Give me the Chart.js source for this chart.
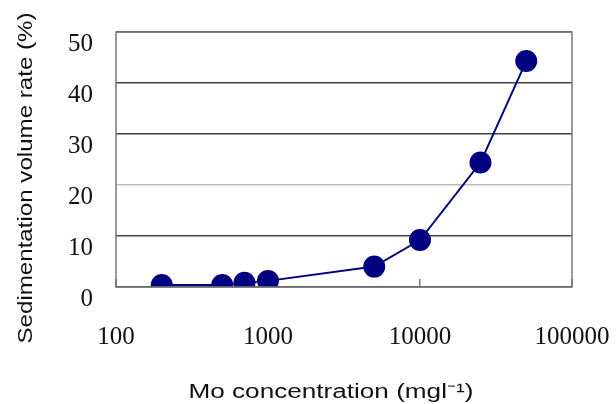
<!DOCTYPE html>
<html>
<head>
<meta charset="utf-8">
<script src="https://cdn.jsdelivr.net/npm/chart.js@4/dist/chart.umd.min.js"></script>
<style>
  html, body { margin: 0; padding: 0; background: #fff; }
  #wrap { width: 616px; height: 404px; }
</style>
</head>
<body>
<div id="wrap"><canvas id="chart" width="616" height="404"></canvas></div>
<script>
// datos
const concentracion = [200, 500, 700, 1000, 5000, 10000, 25000, 50000];
const sedimentacion = [0.4, 0.4, 0.85, 1.2, 4.0, 9.2, 24.4, 44.3];
const xTicks = [100, 1000, 10000, 100000];
const yTicks = [0, 10, 20, 30, 40, 50];

const yTitle = 'Sedimentation volume rate (%)';
const xTitle = 'Mo concentration (mgl\u207B\u00B9)';

// texto estirado a lo ancho, como en el original
function textoAncho(ctx, txt, x, y, ancho, rot) {
    ctx.save();
    ctx.translate(x, y);
    if (rot) ctx.rotate(-Math.PI / 2);
    const w = ctx.measureText(txt).width;
    ctx.scale(ancho / w, 1);
    ctx.fillText(txt, 0, 0);
    ctx.restore();
}

// marco del area y titulos de los ejes
const marco = {
    id: 'marco',
    afterDraw(chart) {
        const ctx = chart.ctx;
        const a = chart.chartArea;
        ctx.save();
        ctx.strokeStyle = '#777';
        ctx.lineWidth = 1.5;
        ctx.strokeRect(a.left, a.top, a.right - a.left, a.bottom - a.top);

        ctx.fillStyle = '#111';
        ctx.font = '20px "Liberation Sans", Arial, sans-serif';
        ctx.textAlign = 'center';
        ctx.textBaseline = 'alphabetic';
        textoAncho(ctx, xTitle, 331, 398, 285, false);
        textoAncho(ctx, yTitle, 32, 178, 331, true);
        ctx.restore();
    }
};

const serif = '"Liberation Serif", "DejaVu Serif", serif';

const ctx = document.getElementById('chart').getContext('2d');
const chart = new Chart(ctx, {
    type: 'line',
    data: {
        datasets: [{
            data: concentracion.map((c, i) => ({ x: c, y: sedimentacion[i] })),
            borderColor: '#000080',
            backgroundColor: '#000080',
            borderWidth: 2,
            pointRadius: 10,
            pointHoverRadius: 10,
            tension: 0,
            fill: false
        }]
    },
    options: {
        responsive: false,
        animation: false,
        plugins: { legend: { display: false }, tooltip: { enabled: false } },
        layout: { padding: { left: 0, right: 44, top: 32, bottom: 0 } },
        scales: {
            x: {
                type: 'logarithmic',
                min: 100,
                max: 100000,
                afterBuildTicks: (axis) => { axis.ticks = xTicks.map(v => ({ value: v })); },
                afterFit: (axis) => {
                    axis.height = 117;
                    axis.paddingLeft = 0;
                    axis.paddingRight = 0;
                },
                grid: {
                    display: true,
                    drawOnChartArea: false,
                    drawTicks: true,
                    tickLength: -8,
                    color: '#777',
                    lineWidth: 1.5
                },
                border: { display: false },
                ticks: {
                    padding: 43,
                    color: '#111',
                    font: { family: serif, size: 25 },
                    callback: (v) => String(v),
                    maxRotation: 0,
                    autoSkip: false
                }
            },
            y: {
                min: 0,
                max: 50,
                afterBuildTicks: (axis) => { axis.ticks = yTicks.map(v => ({ value: v })); },
                afterFit: (axis) => {
                    axis.width = 116;
                    axis.paddingTop = 0;
                    axis.paddingBottom = 0;
                },
                grid: {
                    color: (c) => c.tick && c.tick.value === 20 ? '#bbb' : '#444',
                    lineWidth: 1.5,
                    drawTicks: false
                },
                border: { display: false },
                ticks: {
                    padding: 23,
                    labelOffset: 12,
                    color: '#111',
                    font: { family: serif, size: 25 }
                }
            }
        }
    },
    plugins: [marco]
});
</script>
</body>
</html>
